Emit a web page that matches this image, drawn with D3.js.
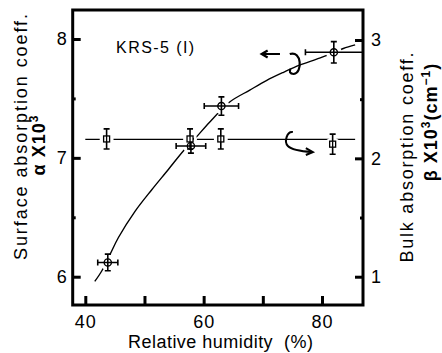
<!doctype html>
<html lang="en">
<head>
<meta charset="UTF-8">
<title>KRS-5 absorption vs humidity</title>
<style>
  body { margin: 0; background: #fff; }
  svg { display: block; }
  text { font-family: "Liberation Sans", Arial, sans-serif; fill: #000; }
</style>
</head>
<body>
<svg id="chart" width="442" height="353"></svg>
<script src="https://d3js.org/d3.v7.min.js"></script>
<script>
// alpha (surface absorption) points, circles
var humidity   = [43.8, 57.85, 63.0, 82.0];
var alpha      = [6.12, 7.10, 7.436, 7.888];
var alphaErrXLo = [1.7, 2.5, 2.9, 4.8];
var alphaErrXHi = [1.7, 2.5, 2.9, 6.0];
var alphaErrY  = [0.07, 0.06, 0.077, 0.09];

// beta (bulk absorption) points, squares
var betaHumidity = [43.6, 57.7, 62.9, 81.8];
var beta         = [2.164, 2.164, 2.164, 2.12];
var betaErrY     = [0.085, 0.085, 0.085, 0.085];

// hand drawn fit curves
var alphaFitX = [41.6, 42.8, 44.2, 45.6, 48.4, 51.2, 54.0, 56.6, 58.5, 61.0, 64.4, 67.8, 70.6, 73.5, 76.2, 79.1, 81.3, 83.6, 85.6];
var alphaFitY = [5.96, 6.05, 6.19, 6.33, 6.55, 6.73, 6.90, 7.06, 7.16, 7.30, 7.47, 7.57, 7.65, 7.72, 7.78, 7.83, 7.87, 7.92, 7.95];
var betaFitX = [40.0, 85.6];
var betaFitY = [2.16, 2.16];

// ticks
var xTicks = [40, 50, 60, 70, 80];
var xTickLabels = ["40", "", "60", "", "80"];
var leftTicks = [6, 7, 8];
var leftMinor = [6.5, 7.5];
var rightTicks = [1, 2, 3];
var rightMinor = [1.5, 2.5];

var svg = d3.select("#chart");
var L = 72.7, R = 363, T = 10, B = 305;

var x = d3.scaleLinear().domain([37.87, 86.93]).range([L, R]);
var yL = d3.scaleLinear().domain([5.762, 8.244]).range([B, T]);
var yR = d3.scaleLinear().domain([0.761, 3.2535]).range([B, T]);

svg.append("clipPath").attr("id", "plot")
  .append("rect").attr("x", L).attr("y", T).attr("width", R - L).attr("height", B - T);

var plot = svg.append("g").attr("clip-path", "url(#plot)");

var line = d3.line().curve(d3.curveCatmullRom.alpha(0.5));

// alpha fit curve
plot.append("path")
  .attr("d", line(alphaFitX.map(function(v, i) { return [x(v), yL(alphaFitY[i])]; })))
  .attr("fill", "none").attr("stroke", "#000").attr("stroke-width", 1.4);

// beta fit line
plot.append("path")
  .attr("d", d3.line()(betaFitX.map(function(v, i) { return [x(v), yR(betaFitY[i])]; })))
  .attr("fill", "none").attr("stroke", "#000").attr("stroke-width", 1.3);

var alphaPts = humidity.map(function(h, i) {
  return { x: h, y: alpha[i], lo: alphaErrXLo[i], hi: alphaErrXHi[i], ey: alphaErrY[i] };
});
var betaPts = betaHumidity.map(function(h, i) {
  return { x: h, y: beta[i], ey: betaErrY[i] };
});

// white gaps round the markers
plot.selectAll(".haloA").data(alphaPts).enter().append("circle")
  .attr("cx", function(d) { return x(d.x); }).attr("cy", function(d) { return yL(d.y); })
  .attr("r", 8).attr("fill", "#fff");
plot.selectAll(".haloB").data(betaPts).enter().append("circle")
  .attr("cx", function(d) { return x(d.x); }).attr("cy", function(d) { return yR(d.y); })
  .attr("r", 7).attr("fill", "#fff");

function errBars(g, pts, ys, hasX) {
  pts.forEach(function(d) {
    var cx = x(d.x), cy = ys(d.y);
    var y0 = ys(d.y + d.ey), y1 = ys(d.y - d.ey);
    var p = "M" + cx + "," + y0 + "V" + y1 +
            "M" + (cx - 3) + "," + y0 + "H" + (cx + 3) +
            "M" + (cx - 3) + "," + y1 + "H" + (cx + 3);
    if (hasX) {
      var x0 = x(d.x - d.lo), x1 = x(d.x + d.hi);
      p += "M" + x0 + "," + cy + "H" + x1 +
           "M" + x0 + "," + (cy - 3) + "V" + (cy + 3) +
           "M" + x1 + "," + (cy - 3) + "V" + (cy + 3);
    }
    g.append("path").attr("d", p).attr("fill", "none")
      .attr("stroke", "#000").attr("stroke-width", 1.6);
  });
}
errBars(plot, alphaPts, yL, true);
errBars(plot, betaPts, yR, false);

plot.selectAll(".sq").data(betaPts).enter().append("rect")
  .attr("x", function(d) { return x(d.x) - 3; }).attr("y", function(d) { return yR(d.y) - 3; })
  .attr("width", 6).attr("height", 6)
  .attr("fill", "#fff").attr("stroke", "#000").attr("stroke-width", 1.3);
plot.selectAll(".sqv").data(betaPts).enter().append("line")
  .attr("x1", function(d) { return x(d.x); }).attr("x2", function(d) { return x(d.x); })
  .attr("y1", function(d) { return yR(d.y) - 3; }).attr("y2", function(d) { return yR(d.y) + 3; })
  .attr("stroke", "#000").attr("stroke-width", 1.3);

plot.selectAll(".ci").data(alphaPts).enter().append("circle")
  .attr("cx", function(d) { return x(d.x); }).attr("cy", function(d) { return yL(d.y); })
  .attr("r", 3.6).attr("fill", "none").attr("stroke", "#000").attr("stroke-width", 1.4);

// frame
svg.append("rect").attr("x", L).attr("y", T).attr("width", R - L).attr("height", B - T)
  .attr("fill", "none").attr("stroke", "#000").attr("stroke-width", 3);

function styleAxis(g, size) {
  g.select(".domain").remove();
  g.selectAll(".tick line").attr("stroke-width", 3);
  g.selectAll("text").style("font-size", size + "px").style("letter-spacing", "1px")
    .style("font-family", "'Liberation Sans', Arial, sans-serif").attr("fill", "#000");
}

var xa = svg.append("g").attr("transform", "translate(0," + B + ")")
  .call(d3.axisBottom(x).tickValues(xTicks).tickSize(-9).tickPadding(10)
    .tickFormat(function(d, i) { return xTickLabels[i]; }));
styleAxis(xa, 18);

var la = svg.append("g").attr("transform", "translate(" + L + ",0)")
  .call(d3.axisLeft(yL).tickValues(leftTicks).tickSize(-8).tickPadding(5).tickFormat(d3.format("d")));
styleAxis(la, 18);
var lm = svg.append("g").attr("transform", "translate(" + L + ",0)")
  .call(d3.axisLeft(yL).tickValues(leftMinor).tickSize(-3).tickFormat(""));
styleAxis(lm, 18);

var ra = svg.append("g").attr("transform", "translate(" + R + ",0)")
  .call(d3.axisRight(yR).tickValues(rightTicks).tickSize(-8).tickPadding(8).tickFormat(d3.format("d")));
styleAxis(ra, 18);
var rm = svg.append("g").attr("transform", "translate(" + R + ",0)")
  .call(d3.axisRight(yR).tickValues(rightMinor).tickSize(-3).tickFormat(""));
styleAxis(rm, 18);

// axis titles
svg.append("text").attr("x", 220.5).attr("y", 348).attr("text-anchor", "middle")
  .style("font-size", "18px").style("white-space", "pre")
  .attr("textLength", 185).attr("lengthAdjust", "spacing")
  .text("Relative humidity  (%)");

svg.append("text").attr("transform", "translate(27,137) rotate(-90)").attr("text-anchor", "middle")
  .style("font-size", "18px").attr("textLength", 246).attr("lengthAdjust", "spacing")
  .text("Surface absorption coeff.");

var t2 = svg.append("text").attr("transform", "translate(45,145) rotate(-90)").attr("text-anchor", "middle")
  .style("font-size", "18px").style("font-weight", "bold").style("letter-spacing", "1px");
t2.append("tspan").text("α X10");
t2.append("tspan").attr("dy", -7).style("font-size", "12px").text("3");

svg.append("text").attr("transform", "translate(413,157.5) rotate(-90)").attr("text-anchor", "middle")
  .style("font-size", "18px").attr("textLength", 210).attr("lengthAdjust", "spacing")
  .text("Bulk absorption coeff.");

var t4 = svg.append("text").attr("transform", "translate(437,122) rotate(-90)").attr("text-anchor", "middle")
  .style("font-size", "18px").style("font-weight", "bold").style("letter-spacing", "1px");
t4.append("tspan").text("β X10");
t4.append("tspan").attr("dy", -7).style("font-size", "12px").text("3");
t4.append("tspan").attr("dy", 7).text("(cm");
t4.append("tspan").attr("dy", -7).style("font-size", "12px").text("−1");
t4.append("tspan").attr("dy", 7).text(")");

// sample label
svg.append("text").attr("x", x(45.2)).attr("y", yL(7.88))
  .style("font-size", "16px").attr("textLength", 78).attr("lengthAdjust", "spacing")
  .text("KRS-5 (I)");

// annotation: loop on alpha curve with arrow to the left axis
var ax = x(75.23), ay = yL(7.798);
svg.append("path")
  .attr("d", "M" + (ax - 4) + "," + (ay - 9) + " C" + (ax + 8) + "," + (ay - 13) + " " + (ax + 9) + "," + (ay + 10) + " " + (ax) + "," + (ay + 11) +
             " C" + (ax - 4) + "," + (ay + 11) + " " + (ax - 5) + "," + (ay + 8) + " " + (ax - 3) + "," + (ay + 6))
  .attr("fill", "none").attr("stroke", "#000").attr("stroke-width", 2.2);
var arx0 = x(72.9), arx1 = x(69.8), ary = yL(7.874);
svg.append("path")
  .attr("d", "M" + arx0 + "," + ary + "H" + arx1 + "M" + (arx1 + 6) + "," + (ary - 3.5) + "L" + arx1 + "," + ary + "L" + (arx1 + 6) + "," + (ary + 3.5))
  .attr("fill", "none").attr("stroke", "#000").attr("stroke-width", 2.2);

// annotation: hook on beta line with arrow to the right axis
var bx = x(74.4), by = yR(2.155);
svg.append("path")
  .attr("d", "M" + (bx + 4) + "," + (by - 8) + " C" + (bx - 2) + "," + (by - 9) + " " + (bx - 5) + "," + (by + 2) + " " + (bx - 1) + "," + (by + 6) +
             " C" + (bx + 2) + "," + (by + 9) + " " + (bx + 8) + "," + (by + 11) + " " + (bx + 23) + "," + (by + 12))
  .attr("fill", "none").attr("stroke", "#000").attr("stroke-width", 2);
svg.append("path")
  .attr("d", "M" + (bx + 17) + "," + (by + 8) + "L" + (bx + 24) + "," + (by + 12) + "L" + (bx + 17) + "," + (by + 15))
  .attr("fill", "none").attr("stroke", "#000").attr("stroke-width", 2);
</script>
</body>
</html>
